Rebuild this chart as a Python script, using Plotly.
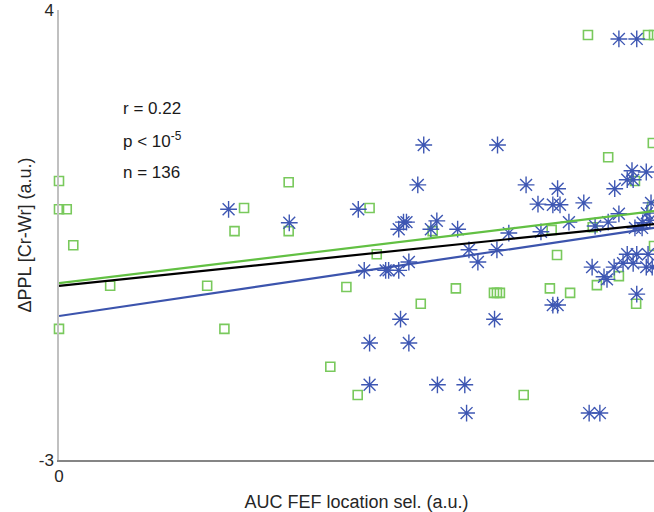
import plotly.graph_objects as go

# ---- data ----
green_x = [0.000, 0.000, 0.013, 0.024, 0.000, 0.086, 0.249, 0.278, 0.295, 0.311,
           0.386, 0.386, 0.456, 0.483, 0.502, 0.522, 0.534, 0.608, 0.667, 0.628,
           0.731, 0.736, 0.741, 0.781, 0.825, 0.837, 0.859, 0.904, 0.941, 0.970,
           1.000, 0.923, 0.968, 0.828, 0.897, 0.998, 0.997, 0.889, 0.990, 1.000]
green_y = [1.34, 0.90, 0.90, 0.34, -0.96, -0.29, -0.29, -0.96, 0.56, 0.92,
           1.32, 0.56, -1.55, -0.31, -1.99, 0.92, 0.20, -0.57, -0.33, 0.56,
           -0.40, -0.40, -0.40, -1.99, -0.33, 0.19, -0.40, -0.28, -0.14, -0.57,
           0.33, 1.71, 1.34, 0.58, 0.62, 1.93, 0.94, 3.61, 3.61, 3.61]

blue_x = [0.285, 0.387, 0.503, 0.513, 0.522, 0.522, 0.574, 0.588, 0.636, 0.682,
          0.685, 0.732, 0.613, 0.737, 0.603, 0.571, 0.579, 0.584, 0.625, 0.635,
          0.670, 0.756, 0.549, 0.554, 0.571, 0.588, 0.689, 0.704, 0.736, 0.785,
          0.805, 0.830, 0.842, 0.838, 0.882, 0.857, 0.810, 0.901, 0.923, 0.934,
          0.941, 0.955, 0.965, 0.963, 0.987, 0.995, 0.988, 0.981, 0.993, 0.968,
          0.980, 0.955, 0.971, 0.990, 0.948, 0.965, 0.896, 0.933, 0.987, 0.997,
          0.921, 0.916, 0.971, 0.830, 0.838, 0.891, 0.909, 0.941, 0.971]
blue_y = [0.90, 0.69, 0.90, -0.05, -1.18, -1.83, -0.81, -1.18, -1.83, -1.83,
          -2.27, -0.81, 1.90, 1.90, 1.28, 0.59, 0.70, 0.70, 0.59, 0.72,
          0.59, 0.53, -0.05, -0.05, -0.05, 0.08, 0.27, 0.08, 0.27, 1.28,
          0.98, 0.97, 0.97, 1.22, 1.00, 0.70, 0.55, 0.64, 0.70, 1.22,
          0.83, 1.36, 1.36, 1.50, 1.48, 1.00, 0.84, 0.69, 0.73, 0.61,
          0.61, 0.20, 0.20, 0.20, 0.06, 0.06, 0.00, 0.00, 0.00, 0.00,
          -0.19, -0.15, -0.42, -0.59, -0.59, -2.27, -2.27, 3.55, 3.55]

fit_x = [0, 1]
green_fit = [-0.25, 0.87]
black_fit = [-0.29, 0.67]
blue_fit = [-0.76, 0.61]

stats_lines = ["r = 0.22", "p < 10<sup>-5</sup>", "n = 136"]
stats_y = [2.47, 1.98, 1.48]

x_ticks = [0, 1]
y_ticks = [-3, 4]

# ---- styles ----
GREEN_M = "#79c95c"
GREEN_L = "#62c043"
BLUE_M = "#3e57b3"
BLUE_L = "#3c54ad"
FONT = "Liberation Sans, Arial, Helvetica, sans-serif"

fig = go.Figure()

fig.add_trace(go.Scatter(
    x=green_x, y=green_y, mode="markers",
    marker=dict(symbol="square-open", size=9, color=GREEN_M,
                line=dict(width=1.6, color=GREEN_M)),
    cliponaxis=False, showlegend=False))

fig.add_trace(go.Scatter(
    x=blue_x, y=blue_y, mode="markers",
    marker=dict(symbol="asterisk-open", size=14, color=BLUE_M,
                line=dict(width=1.4, color=BLUE_M)),
    cliponaxis=False, showlegend=False))

fig.add_trace(go.Scatter(x=fit_x, y=green_fit, mode="lines",
                         line=dict(color=GREEN_L, width=2.2), showlegend=False))
fig.add_trace(go.Scatter(x=fit_x, y=blue_fit, mode="lines",
                         line=dict(color=BLUE_L, width=2.2), showlegend=False))
fig.add_trace(go.Scatter(x=fit_x, y=black_fit, mode="lines",
                         line=dict(color="#000000", width=2.2), showlegend=False))

for txt, yy in zip(stats_lines, stats_y):
    fig.add_annotation(x=0.105, y=yy, xref="x", yref="y", text=txt,
                       showarrow=False, xanchor="left", yanchor="middle",
                       font=dict(family=FONT, size=17, color="#1a1a1a"))

fig.update_layout(
    width=654, height=512,
    margin=dict(l=59, r=0, t=10, b=52),
    paper_bgcolor="white", plot_bgcolor="white",
    font=dict(family=FONT, size=17, color="#262626"),
)

fig.update_xaxes(
    range=[0, 1], tickvals=x_ticks, ticktext=[str(v) for v in x_ticks],
    showgrid=False, zeroline=False, showline=True, linecolor="#858585",
    linewidth=1.5, ticks="inside", ticklen=6, tickcolor="#858585",
    tickfont=dict(size=17, color="#262626"),
    title=dict(text="AUC FEF location sel. (a.u.)", font=dict(size=18, color="#262626"),
               standoff=10),
)
fig.update_yaxes(
    range=[-3, 4], tickvals=y_ticks, ticktext=[str(v) for v in y_ticks],
    showgrid=False, zeroline=False, showline=True, linecolor="#c0c0c0",
    linewidth=1.5, ticks="inside", ticklen=6, tickcolor="#9a9a9a",
    tickfont=dict(size=17, color="#262626"),
    title=dict(text="ΔPPL [Cr-Wr] (a.u.)", font=dict(size=18, color="#262626"),
               standoff=2),
)

fig.write_html("out.html")
